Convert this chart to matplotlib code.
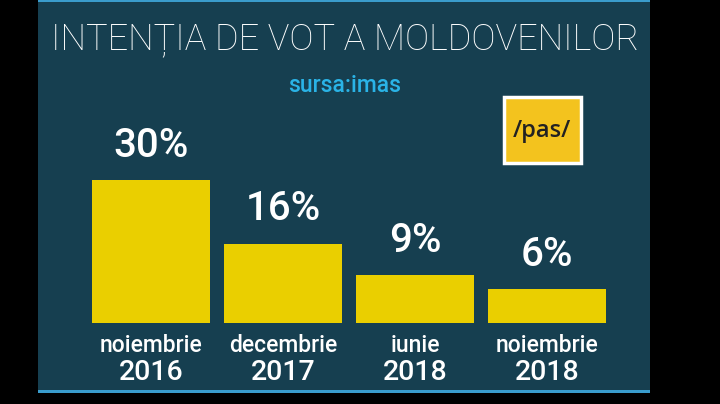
import matplotlib
matplotlib.use("Agg")
import matplotlib.pyplot as plt
from matplotlib.patches import Rectangle
import numpy as np

title = "INTENȚIA DE VOT A MOLDOVENILOR"
source = "sursa:imas"
logo_text = "/pas/"
months = ["noiembrie", "decembrie", "iunie", "noiembrie"]
years = ["2016", "2017", "2018", "2018"]
values = [30, 16, 9, 6]

W, H = 720, 404
BG = "#163f50"
YEL = "#eacf00"
FONT = ["Roboto", "DejaVu Sans"]

fig = plt.figure(figsize=(W / 100, H / 100), dpi=100)
fig.patch.set_facecolor("black")

def fx(px):
    return px / W

def fy(py):
    return 1 - py / H

# teal panel
fig.add_artist(Rectangle((fx(38), fy(392)), fx(650 - 38), (392 - 1) / H, zorder=-5,
                         transform=fig.transFigure, facecolor=BG, edgecolor="none"))
# top and bottom blue lines
fig.add_artist(Rectangle((fx(38), fy(2)), fx(612), 2 / H, zorder=-4,
                         transform=fig.transFigure, facecolor="#3a9ccc", edgecolor="none"))
fig.add_artist(Rectangle((fx(38), fy(393)), fx(612), 3 / H, zorder=-4,
                         transform=fig.transFigure, facecolor="#3a9ccc", edgecolor="none"))

fig.text(fx(345), fy(39), title, ha="center", va="center", color="white",
         fontsize=26, family=FONT, fontweight="light")
fig.text(fx(345), fy(86), source, ha="center", va="center", color="#2ab3e6",
         fontsize=16.5, family=FONT, fontweight="medium")

# logo
fig.add_artist(Rectangle((fx(504), fy(163)), fx(77), 66 / H, transform=fig.transFigure,
                         facecolor="#f3c31e", edgecolor="white", linewidth=2.5))
fig.text(fx(542), fy(131), logo_text, ha="center", va="center", color="#222222",
         fontsize=17, family=["Open Sans", "DejaVu Sans"], fontweight="semibold")

# bars axes
ax = fig.add_axes([fx(38), fy(323), fx(612), 143 / H])
ax.set_facecolor("none")
base = -1.5
x = np.arange(len(values))
vals = np.array(values, dtype=float)
ax.bar(x, vals - base, bottom=base, width=0.894, color=YEL)
ax.set_xlim(-0.856, 3.78)
ax.set_ylim(base, 30)
ax.axis("off")
for xi, v in zip(x, values):
    ax.annotate(f"{v}%", (xi, v), xytext=(0, 11), textcoords="offset points",
                ha="center", va="bottom", color="white", fontsize=29, family=FONT,
                fontweight="medium")
for xi, m, yr in zip(x, months, years):
    ax.annotate(m, (xi, base), xytext=(0, -8), textcoords="offset points",
                ha="center", va="top", color="white", fontsize=16.5, family=FONT,
                fontweight="medium")
    ax.annotate(yr, (xi, base), xytext=(0, -26), textcoords="offset points",
                ha="center", va="top", color="white", fontsize=20.5, family=FONT,
                fontweight="medium")

fig.savefig("out.png", dpi=100, facecolor="black")
